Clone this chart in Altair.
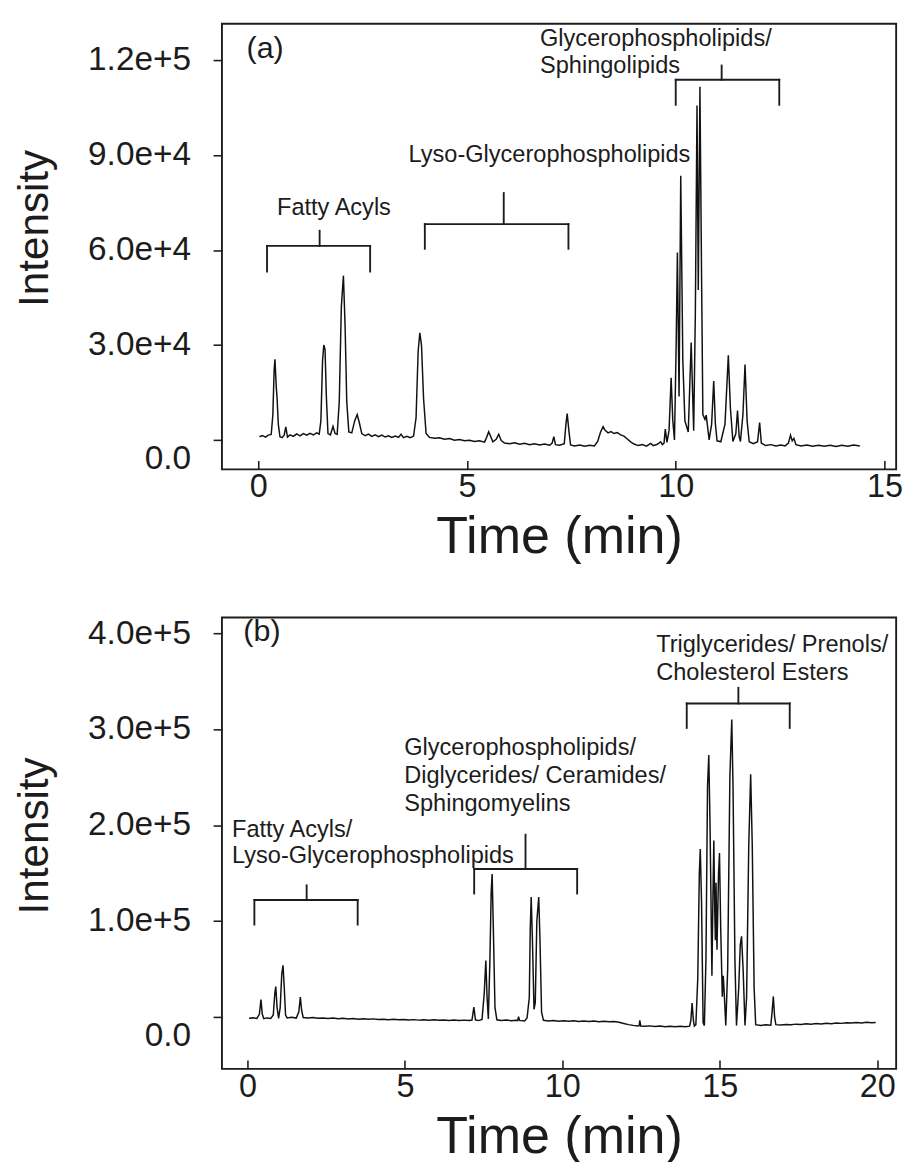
import altair as alt
import pandas as pd

# ---------------- Panel (a): trace (time in min, intensity in thousands) ----------------
a_time = [0.03, 0.10, 0.17, 0.24, 0.31, 0.35, 0.38, 0.40, 0.43, 0.45, 0.48, 0.52, 0.57, 0.62, 0.66, 0.70,
          0.76, 0.84, 0.92, 1.00, 1.08, 1.16, 1.24, 1.32, 1.40, 1.46, 1.50, 1.54, 1.57, 1.60, 1.63, 1.67,
          1.73, 1.79, 1.84, 1.89, 1.94, 1.99, 2.04, 2.08, 2.12, 2.17, 2.24, 2.31, 2.37, 2.42, 2.48, 2.56,
          2.64, 2.72, 2.80, 2.88, 2.96, 3.04, 3.12, 3.20, 3.28, 3.36, 3.42, 3.48, 3.56, 3.64, 3.72, 3.78,
          3.83, 3.87, 3.91, 3.96, 4.02, 4.10, 4.22, 4.34, 4.46, 4.58, 4.70, 4.82, 4.94, 5.06, 5.18, 5.30,
          5.42, 5.47, 5.52, 5.57, 5.62, 5.70, 5.76, 5.82, 5.90, 6.02, 6.14, 6.26, 6.38, 6.50, 6.62, 6.74,
          6.86, 6.98, 7.04, 7.08, 7.12, 7.22, 7.33, 7.37, 7.40, 7.44, 7.48, 7.58, 7.70, 7.82, 7.94, 8.05,
          8.13, 8.20, 8.26, 8.31, 8.38, 8.45, 8.52, 8.60, 8.68, 8.76, 8.84, 8.92, 9.00, 9.10, 9.20, 9.30,
          9.40, 9.46, 9.56, 9.64, 9.68, 9.72, 9.75, 9.79, 9.84, 9.89, 9.93, 9.97, 10.01, 10.04, 10.08, 10.12,
          10.17, 10.22, 10.30, 10.37, 10.43, 10.47, 10.51, 10.54, 10.58, 10.62, 10.65, 10.70, 10.73, 10.80,
          10.86, 10.91, 10.95, 10.99, 11.08, 11.18, 11.26, 11.31, 11.37, 11.44, 11.48, 11.52, 11.55, 11.61,
          11.66, 11.71, 11.76, 11.86, 11.96, 12.01, 12.05, 12.15, 12.28, 12.40, 12.52, 12.62, 12.70, 12.75,
          12.79, 12.83, 12.88, 13.00, 13.14, 13.28, 13.42, 13.56, 13.70, 13.84, 13.98, 14.12, 14.26, 14.41]
a_int = [1.0, 1.4, 0.9, 1.5, 1.7, 8.0, 22.0, 25.5, 17.0, 13.4, 5.0, 1.0, 0.7, 1.5, 4.1, 0.9,
         1.6, 1.1, 1.9, 1.3, 2.0, 1.5, 2.1, 1.6, 2.2, 1.8, 6.0, 25.0, 30.0, 28.5, 14.0, 2.0,
         1.6, 4.3, 2.0, 1.7, 12.0, 42.0, 51.9, 36.0, 12.0, 2.5, 2.2, 6.0, 8.0, 5.5, 2.0, 1.3,
         1.8, 1.1, 1.6, 1.0, 1.5, 0.9, 1.3, 0.8, 1.2, 0.8, 1.8, 0.7, 1.1, 0.7, 1.2, 7.0,
         28.0, 33.8, 30.0, 13.0, 2.0, 0.8, 0.5, 0.7, 0.2, 0.4, -0.1, 0.1, -0.3, -0.1, -0.5, -0.3,
         -0.7, 0.8, 2.6, 1.0, -0.6, 0.2, 1.8, -0.2, -1.0, -1.2, -0.9, -1.4, -1.1, -1.5, -1.2, -1.6,
         -1.3, -1.7, -1.0, 1.0, -1.5, -1.7, -1.2, 5.0, 8.3, 3.0, -1.6, -1.9, -1.6, -2.0, -1.7, -1.9,
         -0.5, 2.5, 4.2, 3.0, 2.2, 2.6, 2.0, 2.3, 1.6, 1.2, 0.3, -0.6, -1.3, -1.8, -1.5, -2.0,
         -1.1, -1.8, -1.4, -0.6, -1.5, -1.0, 3.4, -0.8, 3.0, 19.6, 6.0, 0.0, 30.0, 59.2, 13.7, 83.5,
         25.0, 6.0, 2.5, 30.8, 2.9, 40.0, 105.7, 47.4, 111.6, 50.0, 8.0, 6.5, 7.8, 0.0,
         5.0, 18.6, 5.0, -0.3, -0.6, 5.0, 26.7, 10.0, -0.5, 2.0, 9.3, 1.0, -0.5, 8.0,
         23.8, 6.0, -0.6, -1.2, -0.6, 5.5, -1.0, -1.8, -1.5, -1.9, -1.6, -1.9, -1.0, 1.5,
         -0.3, 0.5, -1.5, -1.9, -1.6, -2.0, -1.7, -2.0, -1.7, -2.1, -1.7, -2.0, -1.6, -1.9]

# ---------------- Panel (b): trace ----------------
b_time = [0.05, 0.18, 0.30, 0.38, 0.43, 0.47, 0.52, 0.62, 0.74, 0.82, 0.87, 0.90, 0.94, 0.99, 1.04, 1.09,
          1.13, 1.17, 1.21, 1.26, 1.40, 1.55, 1.63, 1.68, 1.72, 1.77, 1.92, 2.08, 2.24, 2.40, 2.56, 2.72,
          2.88, 3.04, 3.20, 3.36, 3.52, 3.68, 3.84, 4.00, 4.16, 4.32, 4.48, 4.64, 4.80, 4.96, 5.12, 5.28,
          5.44, 5.60, 5.76, 5.92, 6.08, 6.24, 6.40, 6.56, 6.72, 6.88, 7.04, 7.13, 7.19, 7.24, 7.34, 7.45,
          7.52, 7.57, 7.61, 7.65, 7.70, 7.74, 7.77, 7.81, 7.86, 7.92, 8.06, 8.22, 8.38, 8.54, 8.58, 8.61,
          8.64, 8.80, 8.88, 8.92, 8.95, 8.98, 9.01, 9.05, 9.10, 9.14, 9.19, 9.25, 9.29, 9.34, 9.40, 9.56,
          9.72, 9.88, 10.04, 10.20, 10.36, 10.52, 10.68, 10.84, 11.00, 11.16, 11.32, 11.48, 11.64, 11.80,
          11.95, 12.10, 12.25, 12.40, 12.44, 12.46, 12.49, 12.62, 12.78, 12.94, 13.10, 13.26, 13.42, 13.58,
          13.74, 13.90, 14.04, 14.08, 14.12, 14.16, 14.19, 14.24, 14.30, 14.35, 14.38, 14.42, 14.47, 14.51,
          14.56, 14.61, 14.65, 14.69, 14.75, 14.78, 14.81, 14.84, 14.86, 14.88, 14.91, 14.96, 14.99, 15.03,
          15.08, 15.11, 15.14, 15.19, 15.25, 15.32, 15.38, 15.42, 15.48, 15.53, 15.60, 15.65, 15.69, 15.74,
          15.80, 15.85, 15.92, 15.98, 16.03, 16.09, 16.14, 16.30, 16.46, 16.62, 16.66, 16.70, 16.74, 16.78,
          16.94, 17.10, 17.26, 17.42, 17.58, 17.74, 17.90, 18.06, 18.22, 18.38, 18.54, 18.70, 18.86, 19.02,
          19.18, 19.34, 19.50, 19.66, 19.82, 19.95]
b_int = [-1.4, -0.9, -1.6, 3.0, 18.0, 3.0, -1.8, -1.0, -1.6, 2.0, 25.0, 31.7, 10.0, -1.5, 10.0, 45.0,
         53.8, 30.0, 2.0, -1.0, -0.4, -1.2, 5.0, 20.8, 7.0, -0.6, -1.0, -0.5, -1.4, -1.0, -1.7, -1.2,
         -1.9, -1.4, -2.1, -1.7, -2.3, -1.9, -2.5, -2.0, -2.7, -2.3, -2.9, -2.5, -3.0, -2.6, -3.1, -2.8,
         -3.3, -2.9, -3.4, -3.0, -3.5, -3.1, -3.6, -3.2, -3.7, -3.3, -3.8, -3.2, 10.2, -3.0, -3.8, -2.5,
         25.0, 58.9, 20.0, -2.0, 60.0, 130.0, 149.0, 90.0, 10.0, -3.0, -3.8, -3.3, -4.0, -3.5, -3.9, 0.3,
         -3.6, -4.1, -1.0, 11.2, 20.0, 90.0, 125.0, 80.0, 8.0, 15.0, 100.0, 125.0, 80.0, 5.0, -3.5, -4.2,
         -3.7, -4.4, -3.9, -4.5, -4.0, -4.7, -4.2, -4.8, -4.3, -5.0, -4.5, -5.1, -4.8, -5.6,
         -6.8, -8.0, -8.8, -9.4, -9.0, -3.5, -9.5, -9.8, -9.3, -10.0, -9.5, -10.1, -9.6, -10.2,
         -9.7, -10.2, -9.6, -4.0, 14.6, -3.0, -9.5, -8.0, 40.0, 150.0, 175.0, 120.0, -6.0, -9.0,
         60.0, 240.0, 273.0, 200.0, 43.0, 120.0, 184.0, 110.0, 80.0, 140.0, 70.0, 150.0, 171.0, 90.0,
         21.0, 43.0, 25.0, -9.0, 50.0, 250.0, 310.0, 240.0, 60.0, -9.0, 30.0, 75.0, 84.0, 50.0,
         -9.0, 20.0, 180.0, 253.0, 180.0, 30.0, -8.0, -8.8, -8.2, -8.6, 5.0, 21.4, 0.0, -8.0,
         -8.4, -7.8, -8.2, -7.5, -7.9, -7.2, -7.6, -6.9, -7.3, -6.6, -7.0, -6.3, -6.7, -6.0,
         -6.4, -5.8, -6.2, -5.6, -6.0, -5.7]

# ---------------- Axes ----------------
a_yticks = [0, 30000, 60000, 90000, 120000]
b_yticks = [0, 100000, 200000, 300000, 400000]
a_xticks = [0, 5, 10, 15]
b_xticks = [0, 5, 10, 15, 20]
a_xdomain = [-0.87, 15.28]
b_xdomain = [-0.81, 20.6]
a_ydomain = [-9300, 131500]
b_ydomain = [-54200, 416400]

# ---------------- Brackets (time, intensity in thousands) ----------------
a_br_left = [0.21, 3.99, 10.00]
a_br_right = [2.68, 7.43, 12.48]
a_br_center = [1.47, 5.88, 11.10]
a_br_bar = [61.3, 68.2, 113.8]
a_br_leg = [53.2, 60.4, 105.9]
a_br_stem = [66.1, 78.0, 118.3]

b_br_left = [0.22, 7.20, 13.95]
b_br_right = [3.50, 10.47, 17.22]
b_br_center = [1.88, 8.83, 15.59]
b_br_bar = [121.9, 154.2, 326.8]
b_br_leg = [96.3, 128.7, 301.3]
b_br_stem = [137.2, 190.0, 343.1]

# ---------------- Annotations ----------------
a_ann_text = ["Fatty Acyls", "Lyso-Glycerophospholipids", "Glycerophospholipids/", "Sphingolipids"]
a_ann_t = [0.45, 3.60, 6.75, 6.75]
a_ann_i = [73.1, 89.9, 126.5, 118.1]

b_ann_text = ["Fatty Acyls/", "Lyso-Glycerophospholipids", "Glycerophospholipids/",
              "Diglycerides/ Ceramides/", "Sphingomyelins", "Triglycerides/ Prenols/", "Cholesterol Esters"]
b_ann_t = [-0.49, -0.49, 4.98, 4.98, 4.98, 12.98, 12.98]
b_ann_i = [195.0, 167.8, 280.0, 251.0, 222.0, 387.4, 358.4]

a_panel_text = ["(a)"]
a_panel_t = [-0.28]
a_panel_i = [123.4]
b_panel_text = ["(b)"]
b_panel_t = [-0.13]
b_panel_i = [401.0]

FONT = "Liberation Sans"
INK = "#1c1c1c"


def bracket_segments(left, right, center, bar, leg, stem):
    rows = []
    for l, r, c, b, g, s in zip(left, right, center, bar, leg, stem):
        rows.append({"t": l, "t2": l, "i": g * 1000, "i2": b * 1000})
        rows.append({"t": r, "t2": r, "i": g * 1000, "i2": b * 1000})
        rows.append({"t": l, "t2": r, "i": b * 1000, "i2": b * 1000})
        rows.append({"t": c, "t2": c, "i": b * 1000, "i2": s * 1000})
    return pd.DataFrame(rows)


def panel(times, ints, xdom, ydom, xticks, yticks, br, ann, plabel, w, h, title_y):
    xs = alt.Scale(domain=xdom, nice=False, zero=False)
    ys = alt.Scale(domain=ydom, nice=False, zero=False)
    xaxis = alt.Axis(values=xticks, title="Time (min)", format="d", offset=-9, tickSize=9,
                     domain=False, grid=False, labelPadding=2, titlePadding=8,
                     labelFontSize=33, titleFontSize=53, labelFont=FONT, titleFont=FONT,
                     titleFontWeight="normal", labelColor=INK, titleColor=INK,
                     tickColor=INK, tickWidth=1.6, labelFlush=False)
    yaxis = alt.Axis(values=yticks, title="Intensity",
                     labelExpr="datum.value === 0 ? '0.0' : format(datum.value, '.1e')",
                     tickSize=9, domain=False, grid=False, labelPadding=23, titlePadding=32,
                     labelFontSize=34, titleFontSize=43, labelFont=FONT, titleFont=FONT,
                     titleFontWeight="normal", labelColor=INK, titleColor=INK,
                     tickColor=INK, tickWidth=1.6, titleY=title_y,
                     labelOffset={"condition": {"test": "datum.value === 0", "value": 19}, "value": 0})

    df = pd.DataFrame({"t": times, "i": [v * 1000 for v in ints]})
    line = alt.Chart(df).mark_line(color="#111111", strokeWidth=1.5, clip=True).encode(
        x=alt.X("t:Q", scale=xs, axis=xaxis),
        y=alt.Y("i:Q", scale=ys, axis=yaxis),
    )
    segs = bracket_segments(*br)
    brackets = alt.Chart(segs).mark_rule(color=INK, strokeWidth=1.9, strokeCap="square").encode(
        x=alt.X("t:Q", scale=xs), x2="t2:Q",
        y=alt.Y("i:Q", scale=ys), y2="i2:Q",
    )
    adf = pd.DataFrame({"t": ann[1], "i": [v * 1000 for v in ann[2]], "txt": ann[0]})
    texts = alt.Chart(adf).mark_text(align="left", baseline="middle", font=FONT,
                                     fontSize=24, color=INK).encode(
        x=alt.X("t:Q", scale=xs), y=alt.Y("i:Q", scale=ys), text="txt:N")
    pdf = pd.DataFrame({"t": plabel[1], "i": [v * 1000 for v in plabel[2]], "txt": plabel[0]})
    ptext = alt.Chart(pdf).mark_text(align="left", baseline="middle", font=FONT,
                                     fontSize=31, color=INK).encode(
        x=alt.X("t:Q", scale=xs), y=alt.Y("i:Q", scale=ys), text="txt:N")
    return alt.layer(line, brackets, texts, ptext).properties(width=w, height=h)


pa = panel(a_time, a_int, a_xdomain, a_ydomain, a_xticks, a_yticks,
           (a_br_left, a_br_right, a_br_center, a_br_bar, a_br_leg, a_br_stem),
           (a_ann_text, a_ann_t, a_ann_i), (a_panel_text, a_panel_t, a_panel_i), 687, 454, 208)
pb = panel(b_time, b_int, b_xdomain, b_ydomain, b_xticks, b_yticks,
           (b_br_left, b_br_right, b_br_center, b_br_bar, b_br_leg, b_br_stem),
           (b_ann_text, b_ann_t, b_ann_i), (b_panel_text, b_panel_t, b_panel_i), 687, 460, 222)

chart = alt.vconcat(pa, pb, spacing=52).properties(
    padding={"left": 5, "top": 4, "right": 0, "bottom": 0},
    background="white",
).configure(
    font=FONT,
    view=alt.ViewConfig(stroke=INK, strokeWidth=1.9),
)

chart.save("out.html", embed_options={"renderer": "svg", "actions": False})
